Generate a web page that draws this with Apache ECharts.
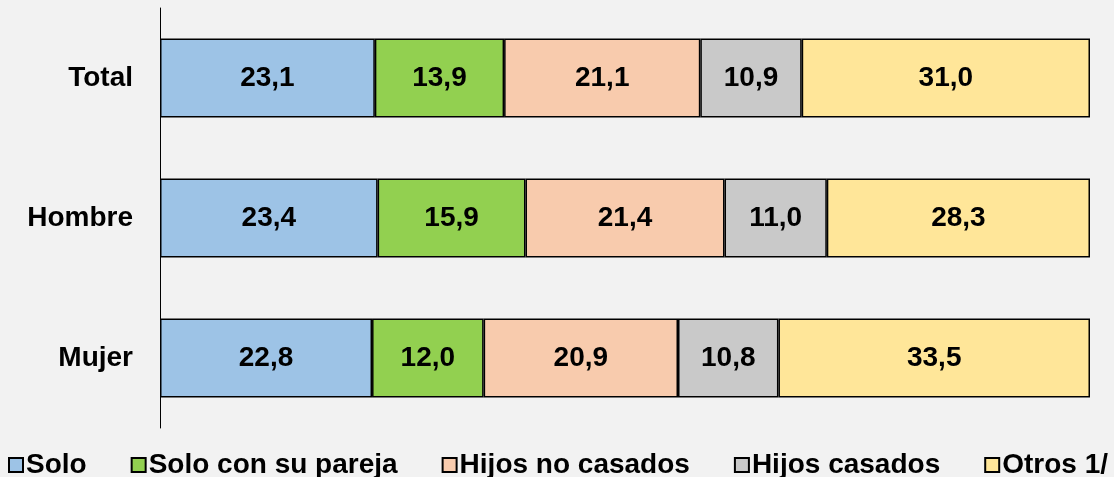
<!DOCTYPE html>
<html><head><meta charset="utf-8">
<script src="https://cdn.jsdelivr.net/npm/echarts@6/dist/echarts.min.js"></script>
<style>html,body{margin:0;padding:0;background:#f2f2f2;}#c{width:1114px;height:477px;}</style>
</head><body><div id="c"></div>
<script>
const categories = ['Total', 'Hombre', 'Mujer'];
const seriesNames = ['Solo', 'Solo con su pareja', 'Hijos no casados', 'Hijos casados', 'Otros 1/'];
const solo = [23.1, 23.4, 22.8];
const soloPareja = [13.9, 15.9, 12.0];
const hijosNoCasados = [21.1, 21.4, 20.9];
const hijosCasados = [10.9, 11.0, 10.8];
const otros = [31.0, 28.3, 33.5];
const colors = ['#9dc3e6', '#92d050', '#f8cbad', '#c9c9c9', '#ffe699'];
const values = [solo, soloPareja, hijosNoCasados, hijosCasados, otros];

const chart = echarts.init(document.getElementById('c'));
const font = 'Liberation Sans, Arial, sans-serif';
chart.setOption({
  backgroundColor: '#f2f2f2',
  animation: false,
  grid: { left: 160, right: 24, top: 8, bottom: 49 },
  xAxis: { type: 'value', min: 0, max: 100, show: false },
  yAxis: {
    type: 'category', data: categories, inverse: true,
    axisLine: { show: true, lineStyle: { color: '#000', width: 1 } },
    axisTick: { show: false },
    axisLabel: { margin: 27, color: '#000', fontFamily: font, fontWeight: 'bold', fontSize: 28 }
  },
  legend: {
    left: 8, top: 451, width: 1300, padding: 0, itemGap: 44, itemWidth: 14, itemHeight: 14,
    icon: 'rect',
    textStyle: { color: '#000', fontFamily: font, fontWeight: 'bold', fontSize: 28, padding: [0, 0, 0, -2] },
    data: seriesNames
  },
  series: seriesNames.map((n, i) => ({
    name: n, type: 'bar', stack: 'all', barWidth: 79,
    data: values[i],
    itemStyle: { color: colors[i], borderColor: '#000', borderWidth: 1.5 },
    label: {
      show: true, position: 'inside', color: '#000', fontFamily: font, fontWeight: 'bold', fontSize: 28,
      formatter: p => p.value.toFixed(1).replace('.', ',')
    }
  }))
});
</script></body></html>
